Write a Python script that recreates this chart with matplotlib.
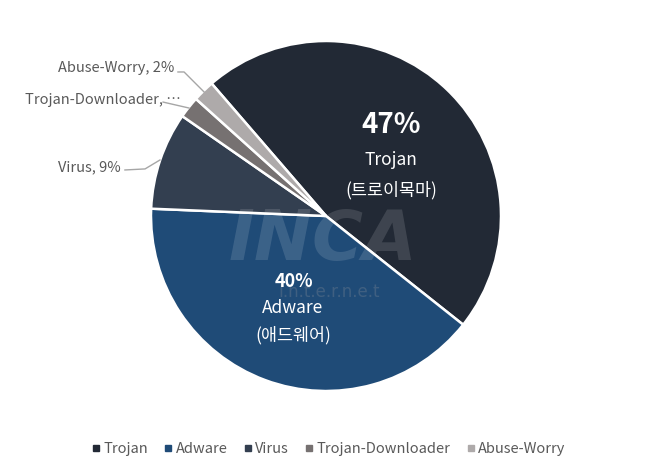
import matplotlib
matplotlib.use('Agg')
import matplotlib.pyplot as plt
from matplotlib.lines import Line2D
import numpy as np

plt.rcParams['font.family'] = ['Noto Sans CJK KR', 'DejaVu Sans']

categories = ['Trojan', 'Adware', 'Virus', 'Trojan-Downloader', 'Abuse-Worry']
shares = [47, 40, 9, 2, 2]
korean_names = {'Trojan': '(트로이목마)', 'Adware': '(애드웨어)'}
colors = ['#222935', '#1f4b77', '#333f50', '#767171', '#aeaaaa']
outer_labels = ['Virus, 9%', 'Trojan-Downloader, …', 'Abuse-Worry, 2%']

W, H = 650, 471
fig = plt.figure(figsize=(W / 100, H / 100), dpi=100)
# pie centre (326, 216) px from top, radius 175 px
cx, cy, r = 326, 216, 175
ax = fig.add_axes([(cx - r) / W, (H - cy - r) / H, 2 * r / W, 2 * r / H])

wedges, _ = ax.pie(shares, colors=colors, startangle=130.8, counterclock=False,
                   wedgeprops=dict(edgecolor='white', linewidth=1.8))
ax.set_xlim(-1, 1)
ax.set_ylim(-1, 1)
ax.set_aspect('equal')
ax.axis('off')

# watermark (sits behind the Adware label, as in the original)
ax.text(-0.02, -0.14, 'INCA', ha='center', va='center', fontsize=50,
        fontweight='bold', style='italic', color='white', alpha=0.13, family='DejaVu Sans')
ax.text(0.02, -0.435, 'I.n.t.e.r.n.e.t', ha='center', va='center', fontsize=12,
        color='#8a9099', alpha=0.3, family='DejaVu Sans')

# inner labels
ax.text(0.371, 0.52, f'{shares[0]}%', ha='center', va='center', fontsize=20,
        fontweight='bold', color='white')
ax.text(0.371, 0.32, categories[0], ha='center', va='center', fontsize=12.5, color='white')
ax.text(0.371, 0.15, korean_names['Trojan'], ha='center', va='center', fontsize=12.5, color='white')

ax.text(-0.183, -0.377, f'{shares[1]}%', ha='center', va='center', fontsize=13,
        fontweight='bold', color='white')
ax.text(-0.189, -0.526, categories[1], ha='center', va='center', fontsize=12.5, color='white')
ax.text(-0.189, -0.68, korean_names['Adware'], ha='center', va='center', fontsize=12.5, color='white')

# outer labels with leader lines
lead_color = '#a6a6a6'
label_pos = [(-1.17, 0.28), (-0.83, 0.663), (-0.865, 0.846)]
leaders = [
    [(-1.149, 0.263), (-1.034, 0.269), (-0.949, 0.32)],
    [(-0.931, 0.651), (-0.783, 0.617)],
    [(-0.846, 0.823), (-0.811, 0.823), (-0.697, 0.709)],
]
for text, (tx, ty), pts in zip(outer_labels, label_pos, leaders):
    xs, ys = zip(*pts)
    ax.plot(xs, ys, color=lead_color, lw=1, clip_on=False)
    ax.text(tx, ty, text, ha='right', va='center', fontsize=10.5, color='#595959')

handles = [Line2D([], [], marker='s', linestyle='none', markersize=4,
                  markerfacecolor=c, markeredgecolor=c) for c in colors]
fig.legend(handles, categories, loc='center', bbox_to_anchor=(328.5 / W, 1 - 449 / H),
           ncol=5, frameon=False, fontsize=10.5, handlelength=0.6, handletextpad=0.2,
           columnspacing=1.1, labelcolor='#595959')

fig.savefig('out.png', dpi=100)
